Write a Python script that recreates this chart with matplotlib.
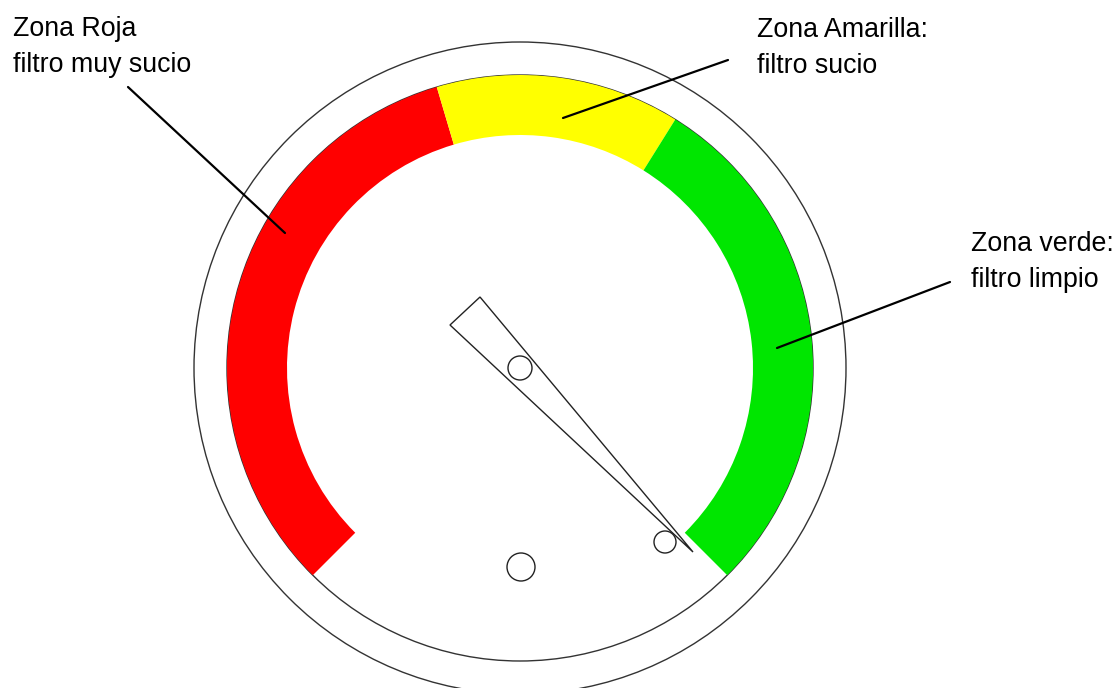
import matplotlib.pyplot as plt
from matplotlib.patches import Wedge, Circle, Polygon

# gauge zones (angles in degrees, counter clockwise, 0 = right)
zone_names = ['Zona Roja', 'Zona Amarilla', 'Zona verde']
zone_start = [106.5, 58, -45]
zone_end = [225, 106.5, 58]
zone_colors = ['#ff0000', '#ffff00', '#00e600']

# labels (two lines each) and leader lines: text pos, line start, line end
label_lines = [('Zona Roja', 'filtro muy sucio'),
               ('Zona Amarilla:', 'filtro sucio'),
               ('Zona verde:', 'filtro limpio')]
label_xy = [(13, 652), (757, 651), (971, 437)]
leader_from = [(128, 601), (728, 628), (950, 406)]
leader_to = [(285, 455), (563, 570), (777, 340)]

# gauge geometry
center = (520, 320)
r_outer = 326
r_band = 293
band_width = 60

# needle and small screws
needle = [(450, 363), (480, 391), (693, 136)]
screws_xy = [(520, 320), (521, 121), (665, 146)]
screws_r = [12, 14, 11]

fig = plt.figure(figsize=(11.15, 6.88), dpi=100)
ax = fig.add_axes([0, 0, 1, 1])
ax.set_xlim(0, 1115)
ax.set_ylim(0, 688)
ax.axis('off')

# outer ring and inner ring lines
ax.add_patch(Circle(center, r_outer, fill=False, ec='#333333', lw=1.0))
ax.add_patch(Circle(center, r_band, fill=False, ec='#333333', lw=1.0))

# coloured zones
for s, e, c in zip(zone_start, zone_end, zone_colors):
    ax.add_patch(Wedge(center, r_band, s, e, width=band_width, fc=c, ec='none'))

# needle
ax.add_patch(Polygon(needle, closed=True, fc='white', ec='#222222', lw=1.0))

# screws
for (x, y), r in zip(screws_xy, screws_r):
    ax.add_patch(Circle((x, y), r, fill=False, ec='#222222', lw=1.0))

# labels
for (l1, l2), (x, y) in zip(label_lines, label_xy):
    ax.text(x, y, l1, fontsize=19.3, family='Liberation Sans', va='baseline', ha='left')
    ax.text(x, y - 36, l2, fontsize=19.3, family='Liberation Sans', va='baseline', ha='left')

for (x0, y0), (x1, y1) in zip(leader_from, leader_to):
    ax.plot([x0, x1], [y0, y1], color='black', lw=1.6, solid_capstyle='round')

fig.savefig('out.png', dpi=100)
